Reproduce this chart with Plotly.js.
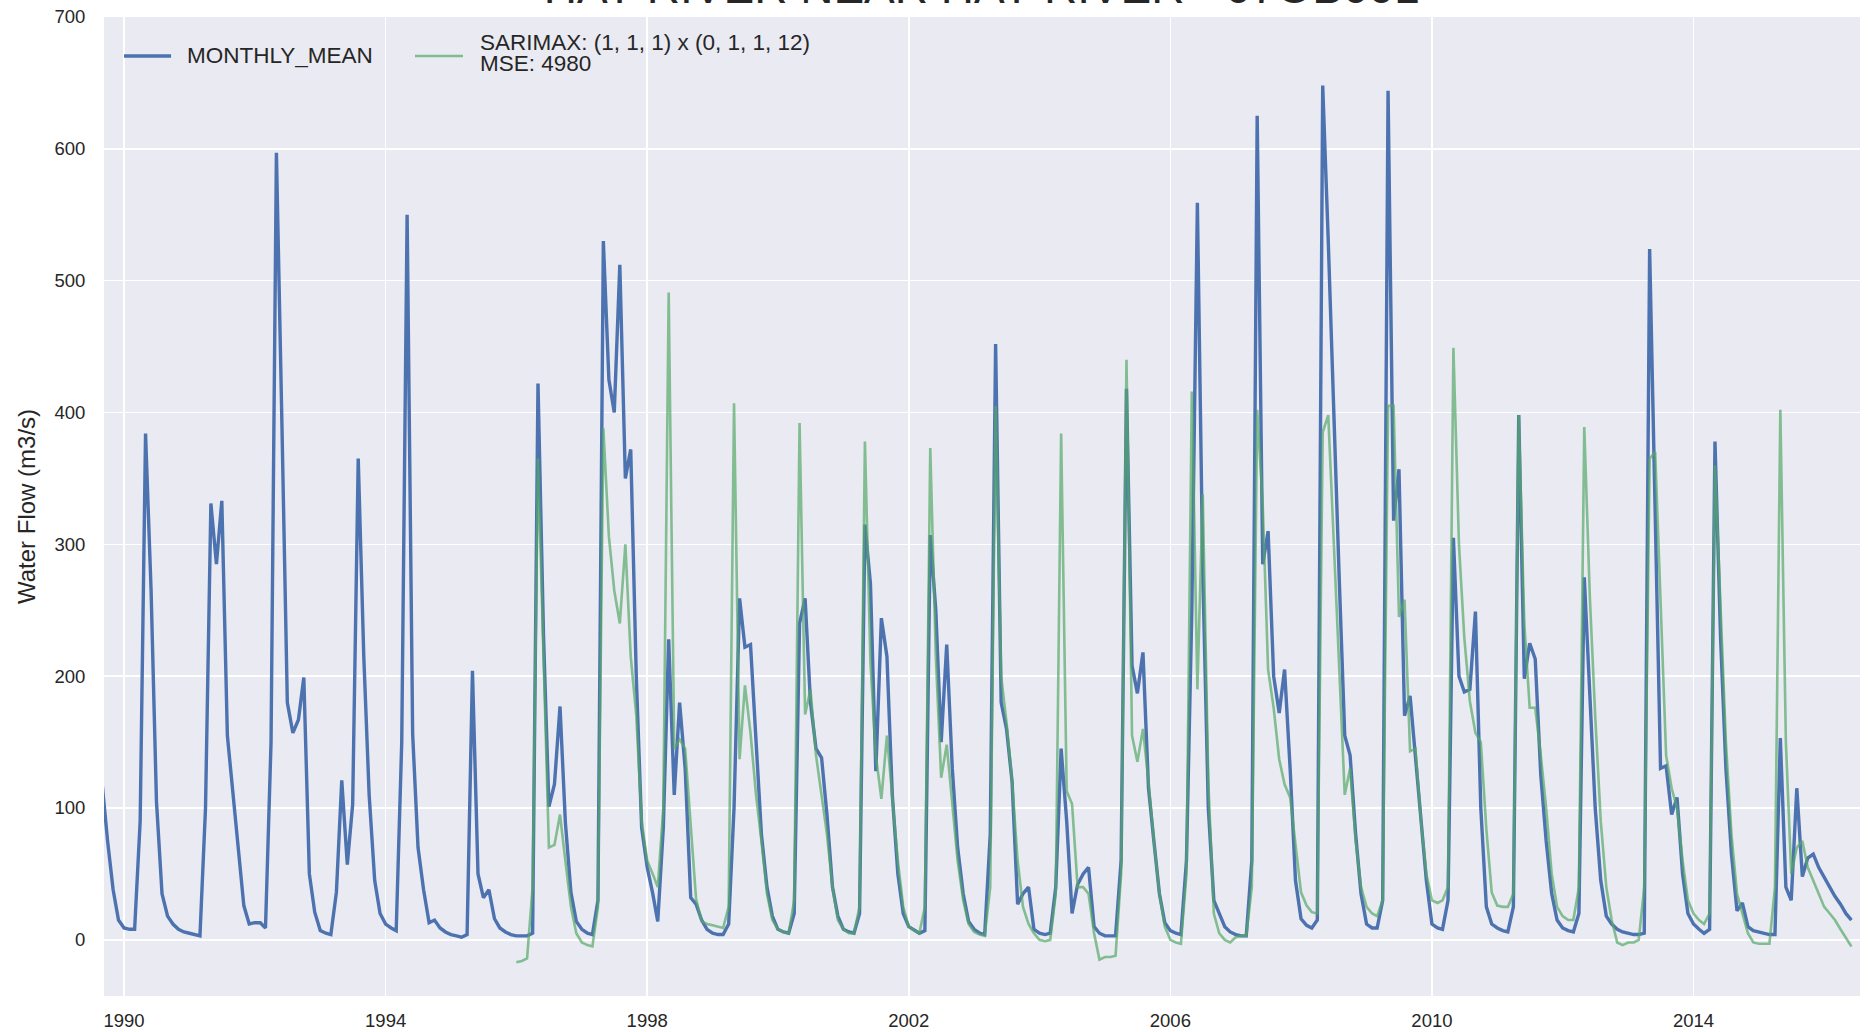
<!DOCTYPE html>
<html>
<head>
<meta charset="utf-8">
<script src="https://cdn.plot.ly/plotly-3.0.1.min.js"></script>
<style>
  html, body { margin: 0; padding: 0; background: #ffffff; }
  #chart { width: 1870px; height: 1032px; }
</style>
</head>
<body>
<div id="chart"></div>
<script>
// ---- data (monthly) ----
const titleText = "HAY RIVER NEAR HAY RIVER - 07OB001";
const observedName = "MONTHLY_MEAN";
const modelNameLines = ["SARIMAX: (1, 1, 1) x (0, 1, 1, 12)", "MSE: 4980"];
const observedStart = "1989-09";   // first month of observed series
const predictedStart = "1996-01";  // first month of model series

const observedFlow = [
  118, 75, 38, 15, 9, 8, 8, 90, 384, 265, 105, 35,
  18, 12, 8, 6, 5, 4, 3, 100, 331, 285, 333, 155,
  113, 70, 26, 12, 13, 13, 9, 150, 597, 390, 180, 157,
  167, 199, 50, 21, 7, 5, 4, 36, 121, 57, 103, 365,
  215, 110, 45, 20, 12, 9, 7, 150, 550, 156, 70, 38,
  13, 15, 9, 6, 4, 3, 2, 4, 204, 50, 32, 38,
  16, 9, 6, 4, 3, 3, 3, 5, 422, 230, 101, 118,
  177, 89, 36, 14, 8, 5, 4, 30, 530, 425, 400, 512,
  350, 372, 200, 85, 55, 35, 14, 85, 228, 110, 180, 130,
  32, 27, 15, 8, 5, 4, 4, 12, 100, 259, 222, 224,
  150, 80, 40, 18, 8, 6, 5, 20, 240, 259, 180, 145,
  138, 95, 40, 18, 8, 6, 5, 20, 315, 270, 128, 244,
  215, 110, 50, 20, 10, 7, 5, 7, 307, 250, 150, 224,
  130, 70, 35, 14, 8, 5, 4, 80, 452, 180, 160, 120,
  27, 35, 40, 8, 5, 4, 5, 40, 145, 90, 20, 42,
  50, 55, 10, 5, 3, 3, 3, 60, 418, 208, 187, 218,
  115, 75, 35, 13, 7, 5, 4, 60, 250, 559, 280, 100,
  30, 20, 10, 6, 4, 3, 3, 60, 625, 285, 310, 200,
  172, 205, 130, 45, 16, 11, 9, 15, 648, 530, 400, 275,
  155, 140, 80, 35, 12, 9, 9, 30, 644, 318, 357, 170,
  185, 140, 90, 45, 12, 9, 8, 30, 305, 200, 188, 190,
  249, 100, 25, 12, 9, 7, 6, 25, 398, 198, 225, 213,
  125, 75, 35, 15, 9, 7, 6, 20, 275, 180, 100, 45,
  18, 12, 8, 6, 5, 4, 4, 5, 524, 330, 130, 132,
  95, 108, 50, 20, 12, 8, 5, 8, 378, 230, 130, 65,
  22, 28, 10, 7, 6, 5, 4, 4, 153, 40, 30, 115,
  48, 62, 65, 55, 48, 40, 33, 27, 20, 15
];

const predictedFlow = [
  -17, -16, -14, 40, 365, 210, 70, 72,
  95, 60, 25, 5, -2, -4, -5, 25, 388, 306, 265, 240,
  300, 215, 170, 90, 60, 50, 40, 100, 491, 145, 152, 145,
  84, 31, 14, 12, 11, 10, 9, 25, 407, 137, 193, 157,
  110, 75, 35, 15, 8, 6, 5, 30, 392, 171, 190, 140,
  110, 80, 40, 15, 8, 5, 5, 25, 378, 210, 140, 107,
  155, 110, 60, 25, 10, 7, 5, 25, 373, 215, 123, 148,
  100, 60, 30, 12, 6, 4, 3, 40, 405, 200, 165, 120,
  60, 25, 12, 5, 0, -1, 0, 35, 384, 113, 103, 40,
  40, 35, 5, -15, -13, -13, -12, 50, 440, 155, 135, 160,
  120, 75, 35, 10, 0, -2, -3, 50, 416, 190, 338, 120,
  20, 5, 0, -2, 2, 3, 3, 40, 402, 330, 205, 176,
  137, 118, 108, 70, 36, 26, 21, 20, 385, 398, 300, 200,
  110, 130, 75, 40, 25, 20, 18, 30, 405, 405, 245, 258,
  143, 145, 90, 50, 30, 28, 30, 40, 449, 300, 229, 181,
  157, 150, 84, 36, 26, 25, 25, 35, 398, 240, 176, 176,
  140, 100, 50, 25, 18, 15, 15, 40, 389, 260, 170, 90,
  40, 15, -2, -4, -2, -2, 0, 40, 365, 370, 250, 140,
  115, 100, 60, 30, 20, 15, 12, 20, 360, 250, 150, 80,
  35, 20, 5, -2, -3, -3, -3, 40, 402, 150, 50, 70,
  75, 55, 45, 35, 25, 20, 15, 8, 2, -5
];

const yTicks = [0, 100, 200, 300, 400, 500, 600, 700];
const xTickYears = ["1990", "1994", "1998", "2002", "2006", "2010", "2014"];
const xRange = ["1989-09-11", "2016-07-19"];
const yRange = [-42.6, 700];

// ---- build monthly date labels ----
function monthSeries(start, n) {
  const [y0, m0] = start.split("-").map(Number);
  const out = [];
  for (let i = 0; i < n; i++) {
    const t = (m0 - 1) + i;
    const y = y0 + Math.floor(t / 12);
    const m = (t % 12) + 1;
    out.push(y + "-" + String(m).padStart(2, "0") + "-01");
  }
  return out;
}
const observedDates = monthSeries(observedStart, observedFlow.length);
const predictedDates = monthSeries(predictedStart, predictedFlow.length);

const font = "Liberation Sans, Arial, sans-serif";
const textColor = "#262626";
const blue = "#4C72B0";
const green = "#55A868";

const traces = [
  {
    x: observedDates, y: observedFlow, type: "scatter", mode: "lines",
    name: observedName,
    line: { color: blue, width: 3.4 }
  },
  {
    x: predictedDates, y: predictedFlow, type: "scatter", mode: "lines",
    name: modelNameLines.join("<br>"),
    line: { color: green, width: 2.6 }, opacity: 0.7
  }
];

// legend drawn in paper space (matplotlib-like: long sample lines, tight two-line label)
const legendShapes = [
  { type: "line", xref: "paper", yref: "paper", x0: 0.0114, x1: 0.0382, y0: 0.9602, y1: 0.9602,
    line: { color: blue, width: 3.4 } },
  { type: "line", xref: "paper", yref: "paper", x0: 0.1771, x1: 0.2044, y0: 0.9602, y1: 0.9602,
    line: { color: green, width: 2.6 }, opacity: 0.7 }
];
const legendFont = { family: font, size: 22.5, color: textColor };
const legendAnnotations = [
  { xref: "paper", yref: "paper", x: 0.0461, y: 0.9602, xanchor: "left", yanchor: "middle",
    text: observedName, showarrow: false, font: legendFont },
  { xref: "paper", yref: "paper", x: 0.2130, y: 0.9739, xanchor: "left", yanchor: "middle",
    text: modelNameLines[0], showarrow: false, font: legendFont },
  { xref: "paper", yref: "paper", x: 0.2130, y: 0.9525, xanchor: "left", yanchor: "middle",
    text: modelNameLines[1], showarrow: false, font: legendFont }
];

const layout = {
  width: 1870, height: 1032,
  paper_bgcolor: "#ffffff", plot_bgcolor: "#EAEAF2",
  margin: { l: 104, r: 10, t: 17, b: 36, pad: 0 },
  font: { family: font, color: textColor, size: 18 },
  title: {
    text: titleText,
    font: { family: font, size: 46, color: textColor },
    x: 0.525, xanchor: "center",
    y: 0.997, yanchor: "bottom"
  },
  showlegend: false,
  shapes: legendShapes,
  annotations: legendAnnotations,
  xaxis: {
    type: "date",
    range: xRange,
    tickvals: xTickYears.map(y => y + "-01-01"),
    ticktext: xTickYears,
    showgrid: true, gridcolor: "#ffffff", gridwidth: 1.6,
    zeroline: false, showline: false,
    ticks: "outside", ticklen: 8, tickcolor: "rgba(0,0,0,0)",
    tickfont: { family: font, size: 18.5, color: textColor }
  },
  yaxis: {
    range: yRange,
    tickvals: yTicks,
    showgrid: true, gridcolor: "#ffffff", gridwidth: 1.6,
    zeroline: false, showline: false,
    ticks: "outside", ticklen: 14, tickcolor: "rgba(0,0,0,0)",
    tickfont: { family: font, size: 18.5, color: textColor },
    title: { text: "Water Flow (m3/s)", font: { family: font, size: 24, color: textColor }, standoff: 12 }
  }
};

Plotly.newPlot("chart", traces, layout, { displayModeBar: false, staticPlot: true });
</script>
</body>
</html>
